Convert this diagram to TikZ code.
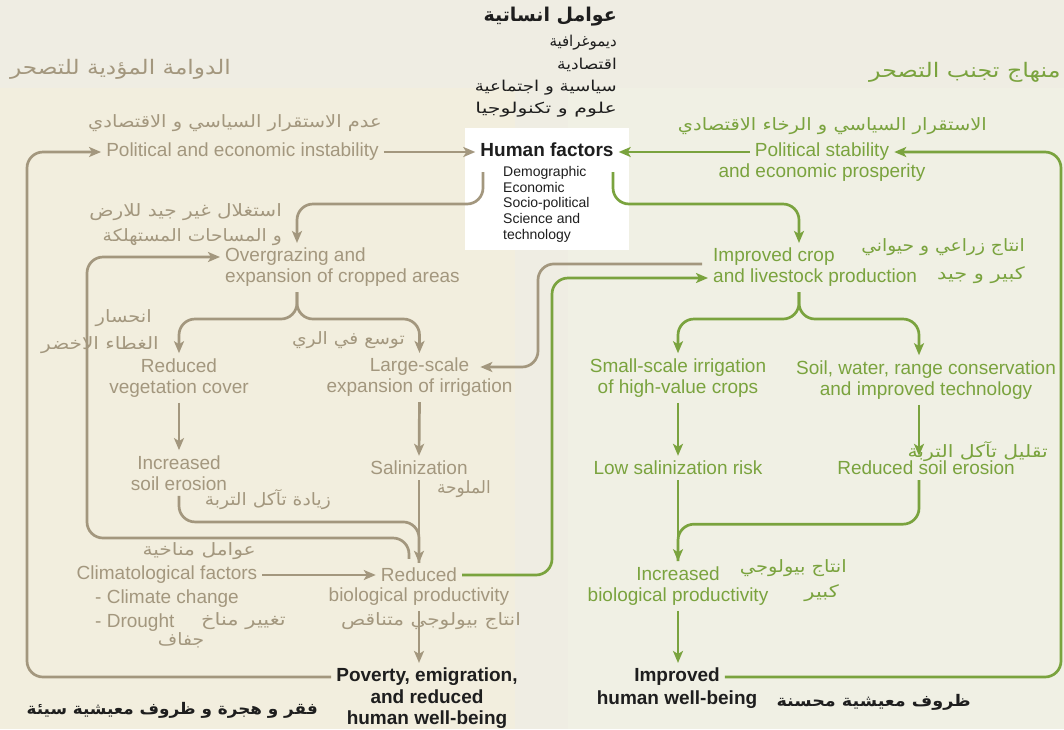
\documentclass[tikz,border=0pt]{standalone}
\usepackage{graphicx}
\usepackage{fontspec}
\setmainfont{Liberation Sans}
\newfontfamily\arabicfont[Script=Arabic]{DejaVu Sans}
\TeXXeTstate=1
\usetikzlibrary{arrows.meta}
\newcommand{\artxt}[2][1]{\scalebox{#1}[1]{\arabicfont\beginR #2\endR}}
\definecolor{brn}{RGB}{163,151,126}
\definecolor{grn}{RGB}{122,163,62}
\definecolor{topc}{RGB}{239,237,227}
\definecolor{leftc}{RGB}{242,238,222}
\definecolor{rightc}{RGB}{240,240,228}
\definecolor{blk}{RGB}{30,30,30}
\tikzset{
 en/.style={font=\fontsize{19}{21.5}\selectfont, align=center, inner sep=5pt},
 bt/.style={en, text=brn},
 gt/.style={en, text=grn},
 kb/.style={en, text=blk, font=\fontsize{19}{21.5}\selectfont\bfseries},
 arl/.style={inner sep=0pt, font=\fontsize{17}{19}\selectfont},
 bar/.style={arl, text=brn},
 gar/.style={arl, text=grn},
 kar/.style={arl, text=blk},
 bl/.style={draw=brn, line width=2.7pt},
 gl/.style={draw=grn, line width=2.7pt},
 arr/.style={-{Stealth[length=12pt,width=10pt,inset=3pt]}},
 rc/.style={rounded corners=16pt}
}
\begin{document}
\begin{tikzpicture}[x=1pt,y=-1pt]
\useasboundingbox (0,0) rectangle (1064,729);
% backgrounds
\fill[topc] (0,0) rectangle (1064,729);
\fill[leftc] (0,88) rectangle (515,729);
\fill[rightc] (568,88) rectangle (1064,729);
\node[fill=white, minimum width=164pt, minimum height=122pt, inner sep=0pt] (box) at (547,189) {};

% titles
\node[kar, anchor=east, font=\fontsize{19}{21}\selectfont\bfseries] (arh) at (617,17) {\artxt{عوامل انساتية}};
\node[kar, anchor=east, font=\fontsize{15}{17}\selectfont] (arh1) at (617,43) {\artxt{ديموغرافية}};
\node[kar, anchor=east, font=\fontsize{15}{17}\selectfont] (arh2) at (617,65) {\artxt[1.14]{اقتصادية}};
\node[kar, anchor=east, font=\fontsize{15}{17}\selectfont] (arh3) at (617,88) {\artxt[1.22]{سياسية و اجتماعية}};
\node[kar, anchor=east, font=\fontsize{15}{17}\selectfont] (arh4) at (617,110) {\artxt[1.37]{علوم و تكنولوجيا}};
\node[bar, anchor=east, font=\fontsize{20}{22}\selectfont] (tl) at (231,69) {\artxt[1.16]{الدوامة المؤدية للتصحر}};
\node[gar, anchor=west, font=\fontsize{20}{22}\selectfont] (tr) at (869,72) {\artxt[1.19]{منهاج تجنب التصحر}};

% human factors
\node[kb] (hf) at (547,150) {Human factors};
\node[anchor=north west, inner sep=0pt, align=left, font=\fontsize{14}{15.8}\selectfont, text=blk] (hfl) at (503,166) {Demographic\\Economic\\Socio-political\\Science and\\technology};

% left english nodes
\node[bt] (pol) at (242.5,152) {Political and economic instability};
\node[bt, anchor=west] (ovg1) at (220,257) {Overgrazing and};
\node[bt, anchor=west] (ovg2) at (220,278) {expansion of cropped areas};
\node[bt] (veg) at (179,378) {Reduced\\vegetation cover};
\node[bt] (irr1) at (419.5,367) {Large-scale};
\node[bt] (irr2) at (419.5,388) {expansion of irrigation};
\node[bt] (ero) at (179,473) {Increased\\soil erosion};
\node[bt] (sal) at (419,468) {Salinization};
\node[bt] (rbp1) at (419,575) {Reduced};
\node[bt] (rbp2) at (419,597) {biological productivity};
\node[bt] (clim) at (167,575) {Climatological factors};
\node[bt, anchor=west] (cc1) at (90,599) {- Climate change};
\node[bt, anchor=west] (cc2) at (90,623) {- Drought};
\node[kb] (pov1) at (427,677) {Poverty, emigration,};
\node[kb] (pov2) at (427,709) {and reduced\\human well-being};

% right english nodes
\node[gt] (pst1) at (822,152) {Political stability};
\node[gt] (pst2) at (822,173) {and economic prosperity};
\node[gt, anchor=west] (icp1) at (708,257) {Improved crop};
\node[gt, anchor=west] (icp2) at (708,278) {and livestock production};
\node[gt] (ssi) at (678,378) {Small-scale irrigation\\of high-value crops};
\node[gt] (swr) at (926,380) {Soil, water, range conservation\\and improved technology};
\node[gt] (lsr) at (678,468) {Low salinization risk};
\node[gt] (rse) at (926,468) {Reduced soil erosion};
\node[gt] (ibp) at (678,586) {Increased\\biological productivity};
\node[kb] (ihw1) at (677,677) {Improved};
\node[kb] (ihw2) at (677,700) {human well-being};

% arabic labels
\node[bar, anchor=east] (a1) at (382,123) {\artxt[1.145]{عدم الاستقرار السياسي و الاقتصادي}};
\node[bar, anchor=east] (a2) at (282,212) {\artxt[1.18]{استغلال غير جيد للارض}};
\node[bar, anchor=east] (a3) at (282,237) {\artxt[1.10]{و المساحات المستهلكة}};
\node[bar, anchor=east] (a4) at (152,318) {\artxt[1.145]{انحسار}};
\node[bar, anchor=east] (a5) at (159,345) {\artxt[1.18]{الغطاء الاخضر}};
\node[bar, anchor=east] (a6) at (405,340) {\artxt[1.10]{توسع في الري}};
\node[bar, anchor=east] (a7) at (331,500) {\artxt[1.10]{زيادة تآكل التربة}};
\node[bar, anchor=east] (a8) at (491,489) {\artxt{الملوحة}};
\node[bar, anchor=east] (a9) at (256,551) {\artxt[1.19]{عوامل مناخية}};
\node[bar, anchor=east] (a10) at (286,621) {\artxt[1.24]{تغيير مناخ}};
\node[bar] (a11) at (181,640) {\artxt[1.1]{جفاف}};
\node[bar, anchor=east] (a12) at (521,621) {\artxt[1.18]{انتاج بيولوجي متناقص}};
\node[kar, anchor=east, font=\fontsize{16}{18}\selectfont\bfseries] (a13) at (318,710) {\artxt[1.05]{فقر و هجرة و ظروف معيشية سيئة}};
\node[kar, anchor=east, font=\fontsize{16}{18}\selectfont\bfseries] (a14) at (971,702) {\artxt[1.1]{ظروف معيشية محسنة}};
\node[gar, anchor=east] (a15) at (987,126) {\artxt[1.145]{الاستقرار السياسي و الرخاء الاقتصادي}};
\node[gar, anchor=east] (a16) at (1025,247) {\artxt[1.10]{انتاج زراعي و حيواني}};
\node[gar, anchor=east] (a17) at (1025,275) {\artxt[1.23]{كبير و جيد}};
\node[gar, anchor=east] (a18) at (1048,452) {\artxt[1.20]{تقليل تآكل التربة}};
\node[gar, anchor=east] (a19) at (847,568) {\artxt[1.145]{انتاج بيولوجي}};
\node[gar, anchor=east] (a20) at (839,593) {\artxt[1.24]{كبير}};

% coordinates
\coordinate (hfL) at (483,172);
\coordinate (hfR) at (613,172);
\coordinate (ovgx) at (297,292);
\coordinate (icpx) at (799,292);

% brown connectors
\draw[bl,arr] (pol.east) -- (pol.east -| hf.west);
\draw[bl,arr,rc] (hfL) -- (483,204) -- (297,204) -- (ovg1.north -| ovgx);
\draw[bl,arr,rc] (ovg2.south -| ovgx) -- (297,319) -| (veg.north);
\draw[bl,arr,rc] (ovg2.south -| ovgx) -- (297,319) -| (irr1.north);
\draw[bl,arr] (veg.south) -- (ero.north);
\draw[bl,arr] (irr2.south) -- (sal.north);
\draw[bl,rc] (ero.south) -- ++(0,26) -| (rbp1.north);
\draw[bl,arr] (sal.south) -- (rbp1.north);
\draw[bl,arr,rc] ([xshift=-10pt,yshift=4pt]rbp1.north) |- (87,538) |- (ovg1.west);
\draw[bl,arr,rc] (pov1.west) -- (27,677) -- (27,152) -- (pol.west);
\draw[bl,arr] (clim.east) -- (rbp1.west);
\draw[bl,arr] (rbp2.south) -- (rbp2.south |- pov1.north);
\draw[bl,arr,rc] ([xshift=-6pt]icp2.north west) -| (538,367) -- ([xshift=6pt]irr1.east);

% green connectors
\draw[gl,arr] (pst1.west) -- (pst1.west -| hf.east);
\draw[gl,arr,rc] (hfR) -- (613,204) -- (799,204) -- (icp1.north -| icpx);
\draw[gl,arr,rc] (rbp1.east) -- (552,575) -- (552,278) -- (icp2.west);
\draw[gl,arr,rc] (ihw1.east) -- (1061,677) -- (1061,152) -- (pst1.east);
\draw[gl,arr,rc] (icp2.south -| icpx) -- (799,319) -| (ssi.north);
\draw[gl,arr,rc] (icp2.south -| icpx) -- (799,319) -| ([xshift=-7pt]swr.north);
\draw[gl,arr] (ssi.south) -- (lsr.north);
\draw[gl,arr] ([xshift=-7pt]swr.south) -- ([xshift=-7pt]rse.north);
\draw[gl,arr] (lsr.south) -- (ibp.north);
\draw[gl,rc] ([xshift=-7pt]rse.south) -- ++(0,44) -| (ibp.north);
\draw[gl,arr] (ibp.south) -- (ibp.south |- ihw1.north);
\end{tikzpicture}
\end{document}
